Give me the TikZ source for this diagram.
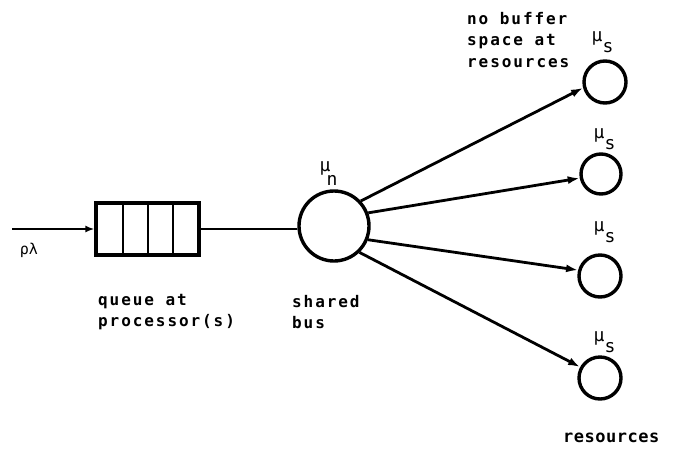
\documentclass[tikz,border=0pt]{standalone}
\usepackage{fontspec}
\newfontfamily\lpfont[LetterSpace=12]{DejaVu Sans Mono Bold}
\newfontfamily\lpbig[LetterSpace=3]{DejaVu Sans Mono Bold}
\newfontfamily\lpgreek{DejaVu Sans Mono}
\usetikzlibrary{arrows.meta}
\begin{document}
\begin{tikzpicture}[x=1pt,y=-1pt,
  lbl/.style={font=\lpfont\fontsize{16pt}{21.5pt}\selectfont, align=left, inner sep=0pt, anchor=west},
  mu/.style={font=\lpgreek\fontsize{18pt}{18pt}\selectfont, inner sep=0pt},
  server/.style={circle, draw, line width=3.4pt, inner sep=0pt},
  conn/.style={line width=2.8pt, -{Latex[length=12pt,width=8pt]}},
  wire/.style={line width=2.6pt}]
\useasboundingbox (0,0) rectangle (676,453);
% input
\coordinate (in) at (12,229);
\node[draw, line width=3.2pt, minimum width=103pt, minimum height=52pt, inner sep=0pt] (queue) at (147.5,229) {};
\draw[wire] (123,204) -- (123,254);
\draw[wire] (148,204) -- (148,254);
\draw[wire] (173,204) -- (173,254);
\draw[wire, -{Latex[length=9pt,width=7pt]}] (in) -- (queue.west);
\node[mu, font=\lpgreek\fontsize{15pt}{16pt}\selectfont] (rholambda) at (29,250) {ρλ};
% bus
\node[server, minimum size=70pt] (bus) at (334,226) {};
\draw[wire] (queue.east) -- (queue.east -| bus.west);
\node[mu] (mun) at (325,168) {μ};
\node[mu] (munsub) at (332,180) {n};
% resources
\node[server, minimum size=42pt] (r1) at (605,82) {};
\node[server, minimum size=40pt] (r2) at (601,174) {};
\node[server, minimum size=42pt] (r3) at (600,276) {};
\node[server, minimum size=42pt] (r4) at (600,378) {};
\node[mu] (mu1) at (597,38) {μ};  \node[mu] (s1) at (608,48) {s};
\node[mu] (mu2) at (599,135) {μ}; \node[mu] (s2) at (610,145) {s};
\node[mu] (mu3) at (599,228) {μ}; \node[mu] (s3) at (610,238) {s};
\node[mu] (mu4) at (599,338) {μ}; \node[mu] (s4) at (610,348) {s};
\draw[conn] (bus.43) -- (r1.195);
\draw[conn] (bus.21) -- (r2.191);
\draw[conn] (bus.-22) -- (r3.165);
\draw[conn] (bus.-46) -- (r4.151);
% labels
\node[lbl] (qlabel) at (98,312) {queue at\\processor(s)};
\node[lbl] (blabel) at (292,312) {shared\\bus};
\node[lbl] (nlabel) at (467,40) {no buffer\\space at\\resources};
\node[font=\lpbig\fontsize{17pt}{20pt}\selectfont, inner sep=0pt, anchor=west] (rlabel) at (563,438) {resources};
\end{tikzpicture}
\end{document}
